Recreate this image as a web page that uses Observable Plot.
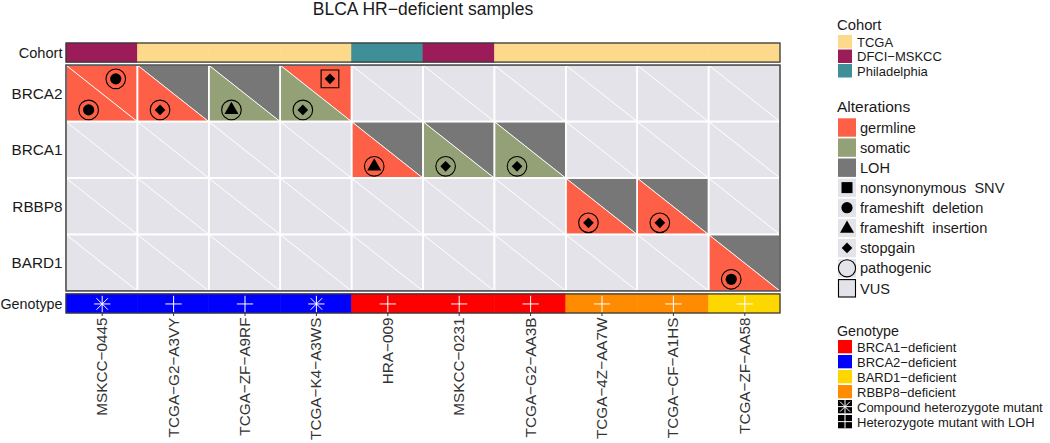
<!DOCTYPE html>
<html>
<head>
<meta charset="utf-8">
<script src="https://cdn.jsdelivr.net/npm/d3@7"></script>
<script src="https://cdn.jsdelivr.net/npm/@observablehq/plot@0.6"></script>
<style>
  body { margin: 0; background: #fff; }
  #wrap { position: relative; width: 1050px; height: 443px; overflow: hidden;
          font-family: "Liberation Sans", Arial, Helvetica, sans-serif; color: #1a1a1a; }
  #title { position: absolute; left: 0; top: 0; width: 846px; text-align: center;
           font-size: 17.5px; line-height: 18px; }
  #chart { position: absolute; left: 0; top: 0; }
  #legend { position: absolute; left: 790px; top: 0; }
</style>
</head>
<body>
<div id="wrap">
  <div id="chart"></div>
  <div id="title">BLCA HR−deficient samples</div>
  <div id="legend"></div>
</div>
<script>
// ---------------- data ----------------
const samples = ["MSKCC−0445", "TCGA−G2−A3VY", "TCGA−ZF−A9RF", "TCGA−K4−A3WS", "HRA−009",
                 "MSKCC−0231", "TCGA−G2−AA3B", "TCGA−4Z−AA7W", "TCGA−CF−A1HS", "TCGA−ZF−AA58"];
const genes = ["BRCA2", "BRCA1", "RBBP8", "BARD1"];
const cohorts = ["DFCI−MSKCC", "TCGA", "TCGA", "TCGA", "Philadelphia",
                 "DFCI−MSKCC", "TCGA", "TCGA", "TCGA", "TCGA"];
const genotypes = ["BRCA2−deficient", "BRCA2−deficient", "BRCA2−deficient", "BRCA2−deficient",
                   "BRCA1−deficient", "BRCA1−deficient", "BRCA1−deficient",
                   "RBBP8−deficient", "RBBP8−deficient", "BARD1−deficient"];
const genotypeMode = ["Compound heterozygote mutant", "Heterozygote mutant with LOH", "Heterozygote mutant with LOH",
                      "Compound heterozygote mutant", "Heterozygote mutant with LOH", "Heterozygote mutant with LOH",
                      "Heterozygote mutant with LOH", "Heterozygote mutant with LOH", "Heterozygote mutant with LOH",
                      "Heterozygote mutant with LOH"];

// alterations (parallel arrays)
const altSample  = [0, 0, 1, 1, 2, 2, 3, 3, 4, 4, 5, 5, 6, 6, 7, 7, 8, 8, 9, 9];
const altGene    = ["BRCA2","BRCA2","BRCA2","BRCA2","BRCA2","BRCA2","BRCA2","BRCA2",
                    "BRCA1","BRCA1","BRCA1","BRCA1","BRCA1","BRCA1",
                    "RBBP8","RBBP8","RBBP8","RBBP8","BARD1","BARD1"];
const altHalf    = ["upper","lower","upper","lower","upper","lower","upper","lower","upper","lower",
                    "upper","lower","upper","lower","upper","lower","upper","lower","upper","lower"];
const altType    = ["germline","germline","LOH","germline","LOH","somatic","germline","somatic",
                    "LOH","germline","LOH","somatic","LOH","somatic","LOH","germline","LOH","germline","LOH","germline"];
const altVariant = ["frameshift deletion","frameshift deletion",null,"stopgain",null,"frameshift insertion",
                    "stopgain","stopgain",null,"frameshift insertion",null,"stopgain",null,"stopgain",
                    null,"stopgain",null,"stopgain",null,"frameshift deletion"];
const altSignif  = ["pathogenic","pathogenic",null,"pathogenic",null,"pathogenic","VUS","pathogenic",
                    null,"pathogenic",null,"pathogenic",null,"pathogenic",null,"pathogenic",null,"pathogenic",
                    null,"pathogenic"];

const cohortLevels = ["TCGA", "DFCI−MSKCC", "Philadelphia"];
const alterationLevels = ["germline", "somatic", "LOH"];
const variantLevels = ["nonsynonymous SNV", "frameshift deletion", "frameshift insertion", "stopgain"];
const signifLevels = ["pathogenic", "VUS"];
const genotypeLevels = ["BRCA1−deficient", "BRCA2−deficient", "BARD1−deficient", "RBBP8−deficient"];
const modeLevels = ["Compound heterozygote mutant", "Heterozygote mutant with LOH"];

// ---------------- styles ----------------
const colorMap = {
  "germline": "#FD6047", "somatic": "#94A075", "LOH": "#777777", "none": "#E4E3E9",
  "TCGA": "#FDD98B", "DFCI−MSKCC": "#9C1C5A", "Philadelphia": "#3E8F97",
  "BRCA1−deficient": "#FF0000", "BRCA2−deficient": "#0000FF",
  "BARD1−deficient": "#FFD700", "RBBP8−deficient": "#FF8C00"
};
const symbolMap = { "nonsynonymous SNV": "square", "frameshift deletion": "circle",
                    "frameshift insertion": "triangle", "stopgain": "diamond2" };
const symbolSize = { "nonsynonymous SNV": 6.2, "frameshift deletion": 5.6,
                     "frameshift insertion": 5.2, "stopgain": 4.8 };
const FONT = '"Liberation Sans", Arial, Helvetica, sans-serif';

// layout bands in row units
const cohortBand = [-0.391, -0.053];
const genoBand = [4.053, 4.391];
const upperPos = [0.69, 0.235], lowerPos = [0.31, 0.785];

// ---------------- derived tables ----------------
const alts = altSample.map((s, k) => ({
  i: s, r: genes.indexOf(altGene[k]), half: altHalf[k], type: altType[k],
  variant: altVariant[k], signif: altSignif[k]
}));
const cells = [];
genes.forEach((g, r) => samples.forEach((s, i) => cells.push({ i, r })));
const tri = [];
cells.forEach(({ i, r }) => {
  ["upper", "lower"].forEach(h => {
    const a = alts.find(d => d.i === i && d.r === r && d.half === h);
    const cat = a ? a.type : "none";
    const id = `${i}-${r}-${h}`;
    if (h === "upper") tri.push({ id, cat, x: i, y1: r, y2: r }, { id, cat, x: i + 1, y1: r, y2: r + 1 });
    else tri.push({ id, cat, x: i, y1: r, y2: r + 1 }, { id, cat, x: i + 1, y1: r + 1, y2: r + 1 });
  });
});
const marked = alts.filter(d => d.variant).map(d => ({
  ...d,
  px: d.i + (d.half === "upper" ? upperPos[0] : lowerPos[0]),
  py: d.r + (d.half === "upper" ? upperPos[1] : lowerPos[1])
}));
const idx = d3.range(samples.length);
const cohortMid = (cohortBand[0] + cohortBand[1]) / 2;
const genoMid = (genoBand[0] + genoBand[1]) / 2;

const colorDomain = Object.keys(colorMap);
const colorRange = colorDomain.map(k => colorMap[k]);

const marks = [
  // cohort bar
  Plot.rect(idx, { x1: i => i, x2: i => i + 1, y1: cohortBand[0], y2: cohortBand[1],
                   fill: i => cohorts[i], stroke: i => cohorts[i], strokeWidth: 0.6 }),
  Plot.rect([0], { x1: 0, x2: samples.length, y1: cohortBand[0], y2: cohortBand[1], fill: "none", stroke: "#3a3a3a", strokeWidth: 1.3 }),
  // triangles
  Plot.area(tri, { x1: "x", y1: "y1", y2: "y2", z: "id", fill: "cat", curve: "linear" }),
  // white cell borders and diagonals
  Plot.rect(cells, { x1: d => d.i, x2: d => d.i + 1, y1: d => d.r, y2: d => d.r + 1, fill: "none", stroke: "white", strokeWidth: 1.6 }),
  Plot.link(cells, { x1: d => d.i, y1: d => d.r, x2: d => d.i + 1, y2: d => d.r + 1, stroke: "white", strokeWidth: 1 }),
  Plot.rect([0], { x1: 0, x2: samples.length, y1: 0, y2: genes.length, fill: "none", stroke: "#4a4a4a", strokeWidth: 1.6 }),
  // significance outlines
  Plot.dot(marked.filter(d => d.signif === "pathogenic"), { x: "px", y: "py", r: 9.8, symbol: "circle", fill: "none", stroke: "black", strokeWidth: 1.1 }),
  Plot.dot(marked.filter(d => d.signif === "VUS"), { x: "px", y: "py", r: 10, symbol: "square", fill: "none", stroke: "black", strokeWidth: 1.1 }),
  // variant symbols
  ...variantLevels.map(v => Plot.dot(marked.filter(d => d.variant === v), {
    x: "px", y: "py", r: symbolSize[v], symbol: symbolMap[v], fill: "black", stroke: "none"
  })),
  // genotype bar
  Plot.rect(idx, { x1: i => i, x2: i => i + 1, y1: genoBand[0], y2: genoBand[1],
                   fill: i => genotypes[i], stroke: i => genotypes[i], strokeWidth: 0.6 }),
  Plot.rect([0], { x1: 0, x2: samples.length, y1: genoBand[0], y2: genoBand[1], fill: "none", stroke: "#3a3a3a", strokeWidth: 1.3 }),
  Plot.dot(idx, { x: i => i + 0.5, y: genoMid, symbol: "plus", r: 5.3, stroke: "white", strokeWidth: 1, fill: "none" }),
  Plot.dot(idx.filter(i => genotypeMode[i] === "Compound heterozygote mutant"),
    { x: i => i + 0.5, y: genoMid, symbol: "times", r: 5.3, stroke: "white", strokeWidth: 1, fill: "none" }),
  // row labels
  Plot.text(genes, { x: 0, y: (d, i) => i + 0.5, text: d => d, textAnchor: "end", dx: -4, fontSize: 15.3, fill: "#1a1a1a" }),
  Plot.text(["Cohort"], { x: 0, y: cohortMid, text: d => d, textAnchor: "end", dx: -4, fontSize: 14.6, fill: "#1a1a1a" }),
  Plot.text(["Genotype"], { x: 0, y: genoMid, text: d => d, textAnchor: "end", dx: -4, fontSize: 14.3, fill: "#1a1a1a" }),
  // sample axis
  Plot.axisX(idx.map(i => i + 0.5), {
    anchor: "bottom", tickFormat: d => samples[Math.floor(d)], tickRotate: -90,
    tickSize: 3, tickPadding: 1, fontSize: 15.3, label: null, color: "#333"
  })
];

const chart = Plot.plot({
  width: 790, height: 443,
  marginLeft: 66, marginRight: 10, marginTop: 43, marginBottom: 130,
  x: { domain: [0, samples.length], axis: null },
  y: { domain: [cohortBand[0], genoBand[1]], reverse: true, axis: null },
  color: { domain: colorDomain, range: colorRange },
  style: { fontFamily: FONT, fontSize: "15px", background: "transparent", color: "#1a1a1a" },
  marks
});
document.getElementById("chart").appendChild(chart);

// ---------------- legend ----------------
const lg = d3.select("#legend").append("svg").attr("width", 260).attr("height", 443)
  .style("font-family", FONT);
const LX = 48;
function title(t, y, size) {
  lg.append("text").attr("x", LX - 1).attr("y", y).attr("font-size", size).attr("fill", "#1a1a1a").text(t);
}
function label(t, x, y, size) {
  lg.append("text").attr("x", x).attr("y", y).attr("font-size", size).attr("fill", "#1a1a1a").text(t);
}
// Cohort
title("Cohort", 30, 14.8);
cohortLevels.forEach((c, k) => {
  const y = 35 + k * 14.5;
  lg.append("rect").attr("x", LX).attr("y", y).attr("width", 14).attr("height", 13.5).attr("fill", colorMap[c]);
  label(c, 67, y + 11.6, 13);
});
// Alterations
title("Alterations", 111.7, 15.5);
const keyBg = "#E4E3E9";
const altItems = [...alterationLevels, ...variantLevels, ...signifLevels];
altItems.forEach((a, k) => {
  const y = 118.3 + k * 20.1;
  const cx = LX + 9, cy = y + 9;
  if (alterationLevels.includes(a)) {
    lg.append("rect").attr("x", LX).attr("y", y).attr("width", 18).attr("height", 18.4).attr("fill", colorMap[a]);
  } else if (variantLevels.includes(a)) {
    lg.append("rect").attr("x", LX).attr("y", y).attr("width", 18).attr("height", 18.4).attr("fill", keyBg);
    const r = symbolSize[a];
    const sym = { square: d3.symbolSquare, circle: d3.symbolCircle, triangle: d3.symbolTriangle, diamond2: d3.symbolDiamond2 }[symbolMap[a]];
    lg.append("path").attr("transform", `translate(${cx},${cy + (a === "frameshift insertion" ? 0.8 : 0)})`)
      .attr("d", d3.symbol(sym, Math.PI * r * r)()).attr("fill", "black");
  } else if (a === "pathogenic") {
    lg.append("rect").attr("x", LX).attr("y", y).attr("width", 18).attr("height", 18.4).attr("fill", keyBg);
    lg.append("circle").attr("cx", cx).attr("cy", cy + 0.3).attr("r", 8.6).attr("fill", "none").attr("stroke", "black").attr("stroke-width", 1.1);
  } else {
    lg.append("rect").attr("x", LX + 0.5).attr("y", y + 0.5).attr("width", 17).attr("height", 17.4)
      .attr("fill", keyBg).attr("stroke", "black").attr("stroke-width", 1.1);
  }
  label(a === "nonsynonymous SNV" ? "nonsynonymous\u00A0\u00A0SNV" :
        a === "frameshift deletion" ? "frameshift\u00A0\u00A0deletion" :
        a === "frameshift insertion" ? "frameshift\u00A0\u00A0insertion" : a,
        70, y + 14.4, 14.6);
});
// Genotype
title("Genotype", 335.5, 14.3);
const genoItems = [...genotypeLevels, ...modeLevels];
genoItems.forEach((gt, k) => {
  const y = 340 + k * 15;
  if (genotypeLevels.includes(gt)) {
    lg.append("rect").attr("x", LX).attr("y", y).attr("width", 14).attr("height", 13.3).attr("fill", colorMap[gt]);
  } else {
    lg.append("rect").attr("x", LX).attr("y", y).attr("width", 14).attr("height", 13.3).attr("fill", "black");
    const cx = LX + 7, cy = y + 6.65;
    lg.append("path").attr("transform", `translate(${cx},${cy})`)
      .attr("d", `M-7,0H7M0,-6.65V6.65`).attr("stroke", "white").attr("stroke-width", 1).attr("fill", "none");
    if (gt === "Compound heterozygote mutant") {
      lg.append("path").attr("transform", `translate(${cx},${cy})`)
        .attr("d", `M-5,-5L5,5M-5,5L5,-5`).attr("stroke", "white").attr("stroke-width", 1).attr("fill", "none");
    }
  }
  label(gt, 67, y + 11.7, 13);
});
</script>
</body>
</html>
